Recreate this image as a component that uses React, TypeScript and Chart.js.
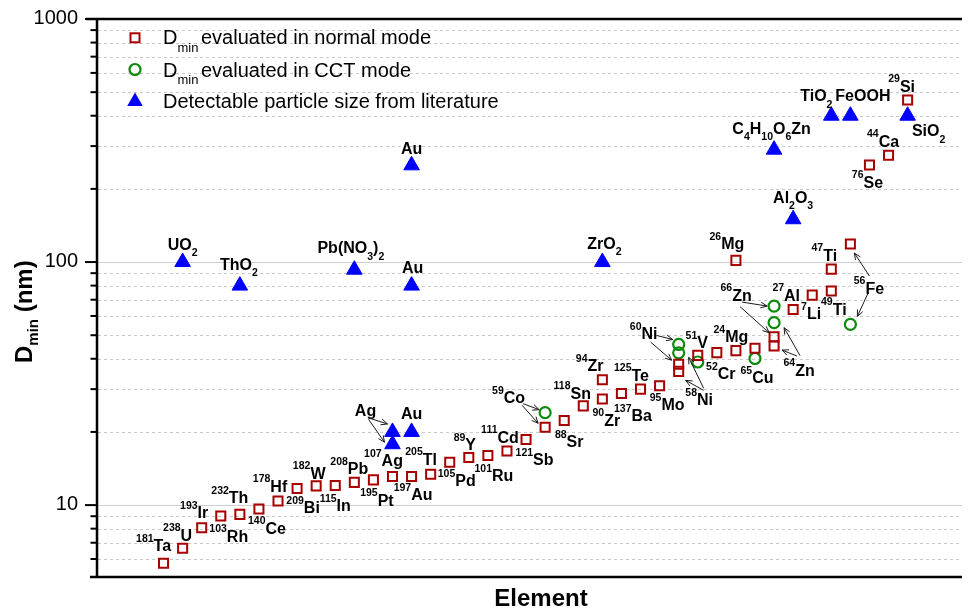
import React, { useEffect, useRef } from "react";
import { Chart, registerables } from "chart.js";

Chart.register(...registerables);

// ---------------- data ----------------
// x = element slot (category position along "Element"), y = Dmin in nm
const normalX = [0, 1, 2, 3, 4, 5, 6, 7, 8, 9, 10, 11, 12, 13, 14, 15, 16, 17, 18, 19, 20, 21, 22, 23, 23, 24, 25, 26, 27, 27, 28, 29, 30, 30, 31, 32, 32, 33, 34, 35, 35, 36, 37, 38, 39];
const normalY = [5.76, 6.65, 8.07, 9.01, 9.16, 9.63, 10.4, 11.7, 12.0, 12.05, 12.4, 12.7, 13.1, 13.1, 13.4, 15.0, 15.7, 16.0, 16.7, 18.6, 20.9, 22.3, 25.6, 32.8, 27.3, 28.8, 30.0, 31.0, 38.0, 35.5, 41.3, 42.4, 43.2, 101.6, 44.2, 49.3, 45.1, 63.8, 73.1, 93.5, 76.0, 118.6, 251, 275, 464];
const normalLabels = ["^181Ta", "^238U", "^193Ir", "^103Rh", "^232Th", "^140Ce", "^178Hf", "^209Bi", "^182W", "^115In", "^208Pb", "^195Pt", "^107Ag", "^197Au", "^205Tl", "^105Pd", "^89Y", "^101Ru", "^111Cd", "^121Sb", "", "^88Sr", "^118Sn", "^94Zr", "^90Zr", "^137Ba", "^125Te", "^95Mo", "", "^58Ni", "^51V", "^52Cr", "^24Mg", "^26Mg", "", "", "^64Zn", "^7Li", "^27Al", "^47Ti", "^49Ti", "^56Fe", "^76Se", "^44Ca", "^29Si"];

const cctX = [20, 27, 27, 28, 31, 32, 32, 36];
const cctY = [24.0, 45.8, 42.3, 38.8, 40.1, 65.9, 56.3, 55.4];
const cctLabels = ["^59Co", "^60Ni", "", "", "^65Cu", "^66Zn", "", ""];

const litX = [1, 4, 10, 12, 12, 13, 13, 13, 23, 32, 33, 35, 36, 39];
const litY = [100, 80, 93, 20, 17.8, 250, 80, 20, 100, 290, 150, 400, 400, 400];
const litLabels = ["UO_2", "ThO_2", "Pb(NO_3)_2", "Ag", "", "Au", "Au", "Au", "ZrO_2", "C_4H_10O_6Zn", "Al_2O_3", "TiO_2", "FeOOH", "SiO_2"];

const yMajorTicks = [1000, 100, 10];
const yMinorTicks = [6, 7, 8, 9, 20, 30, 40, 50, 60, 70, 80, 90, 200, 300, 400, 500, 600, 700, 800, 900];
const yTickText = ["1000", "100", "10"];

const legendTexts = [
  ["D", "min", " evaluated in normal mode"],
  ["D", "min", " evaluated in CCT mode"],
  ["Detectable particle size from literature", "", ""],
];
const xTitle = "Element";
const yTitle = ["D", "min", " (nm)"];

// ---------------- layout (pixel offsets of annotations) ----------------
const normalLabelOffsets: number[][] = [
  [-10, -18], [-5, -13], [-7.5, -15], [8, 20], [-10, -17], [8, 19], [-8, -15], [6, 19], [-7, -13], [0, 20],
  [-5, -14], [3.5, 20], [-9, -16], [1.5, 18], [-9.5, -15], [7, 18], [-4, -13], [6, 20], [-7, -14], [8.5, 20],
  [0, 0], [5, 21], [-11, -13], [-12.7, -14], [4, 21], [11.5, 22], [-9, -14], [7.5, 19], [0, 0], [20.5, 28],
  [-1, -13], [4, 21], [-5, -14], [-9, -17], [0, 0], [0, 0], [25, 24], [18, 4], [-26, 0], [-7, -14],
  [2.5, 18], [18.5, 44], [-2, 17], [-5.5, -14], [-6, -14],
];
const cctLabelOffsets: number[][] = [[-36.5, -15], [-35, -11], [0, 0], [0, 0], [2, 19], [-38, -11], [0, 0], [0, 0]];
const litLabelOffsets: number[][] = [
  [0, -18], [-1, -21.5], [-3.5, -22], [-27, -22], [0, 0], [0, -17], [1, -18.5], [0, -19], [2, -19], [-2.5, -21.5],
  [0, -22], [-15, -20], [12.5, -20], [21, 15],
];
const arrows = [
  { set: "l", k: 3, from: [-24, -14], to: [-5, -8] },
  { set: "l", k: 4, from: [-24, -25], to: [-8, -2] },
  { set: "c", k: 0, from: [-22, -9], to: [-6, -3] },
  { set: "n", k: 20, from: [-23, -22], to: [-7, -4] },
  { set: "c", k: 1, from: [-22, -9], to: [-6, -5] },
  { set: "n", k: 28, from: [-28, -22], to: [-7, -4] },
  { set: "n", k: 29, from: [25, 19], to: [7, 9] },
  { set: "c", k: 2, from: [25, 35.5], to: [10, 4.5] },
  { set: "c", k: 5, from: [-32, -4], to: [-7, 0] },
  { set: "n", k: 35, from: [-34, -30], to: [-5, -4] },
  { set: "c", k: 6, from: [26, 33], to: [10, 5] },
  { set: "n", k: 36, from: [23, 10], to: [8, 4] },
  { set: "n", k: 41, from: [19, 32], to: [4, 9] },
  { set: "c", k: 7, from: [18, -32], to: [7, -8] },
];

const RED = "#a80000";
const GREEN = "#0b8a0b";
const BLUE = "#0000ff";
const FONT = "'Liberation Sans', Arial, Helvetica, sans-serif";

function drawRich(ctx: CanvasRenderingContext2D, text: string, cx: number, cy: number, size = 16, small = 10.5) {
  type Seg = { t: string; k: "n" | "sup" | "sub" };
  const segs: Seg[] = [];
  let i = 0;
  let cur = "";
  while (i < text.length) {
    const ch = text[i];
    if (ch === "^" || ch === "_") {
      if (cur) { segs.push({ t: cur, k: "n" }); cur = ""; }
      let j = i + 1;
      let d = "";
      while (j < text.length && /[0-9]/.test(text[j])) { d += text[j]; j++; }
      segs.push({ t: d, k: ch === "^" ? "sup" : "sub" });
      i = j;
    } else {
      cur += ch;
      i++;
    }
  }
  if (cur) segs.push({ t: cur, k: "n" });
  const big = `bold ${size}px ${FONT}`;
  const sm = `bold ${small}px ${FONT}`;
  let w = 0;
  const widths = segs.map((s) => {
    ctx.font = s.k === "n" ? big : sm;
    const ww = ctx.measureText(s.t).width;
    w += ww;
    return ww;
  });
  const baseline = cy + size * 0.716 / 2;
  let x = cx - w / 2;
  ctx.textAlign = "left";
  ctx.textBaseline = "alphabetic";
  ctx.fillStyle = "#000";
  segs.forEach((s, idx) => {
    ctx.font = s.k === "n" ? big : sm;
    const y = s.k === "n" ? baseline : s.k === "sup" ? baseline - 9.5 : baseline + 6.5;
    ctx.fillText(s.t, x, y);
    x += widths[idx];
  });
}

function drawArrow(ctx: CanvasRenderingContext2D, x1: number, y1: number, x2: number, y2: number) {
  ctx.beginPath();
  ctx.moveTo(x1, y1);
  ctx.lineTo(x2, y2);
  const a = Math.atan2(y2 - y1, x2 - x1);
  const L = 7;
  const s = 0.42;
  ctx.moveTo(x2 - L * Math.cos(a - s), y2 - L * Math.sin(a - s));
  ctx.lineTo(x2, y2);
  ctx.lineTo(x2 - L * Math.cos(a + s), y2 - L * Math.sin(a + s));
  ctx.stroke();
}

const annotPlugin = {
  id: "annot",
  beforeDatasetsDraw(chart: any) {
    const { ctx, chartArea, scales } = chart;
    const y = scales.y;
    ctx.save();
    ctx.lineWidth = 1;
    ctx.strokeStyle = "#c8c8c8";
    ctx.setLineDash([3, 3]);
    yMinorTicks.forEach((v) => {
      const py = Math.round(y.getPixelForValue(v)) + 0.5;
      ctx.beginPath();
      ctx.moveTo(chartArea.left + 2, py);
      ctx.lineTo(chartArea.right, py);
      ctx.stroke();
    });
    ctx.setLineDash([]);
    ctx.strokeStyle = "#cfcfcf";
    yMajorTicks.forEach((v) => {
      if (v >= 1000) return;
      const py = Math.round(y.getPixelForValue(v)) + 0.5;
      ctx.beginPath();
      ctx.moveTo(chartArea.left + 2, py);
      ctx.lineTo(chartArea.right, py);
      ctx.stroke();
    });
    ctx.restore();
  },
  afterDatasetsDraw(chart: any) {
    const { ctx, chartArea, scales } = chart;
    const xs = scales.x;
    const ys = scales.y;
    const { left, right, top, bottom } = chartArea;
    ctx.save();
    // axes frame
    ctx.strokeStyle = "#000";
    ctx.lineWidth = 2.5;
    ctx.beginPath();
    ctx.moveTo(left + 1, top);
    ctx.lineTo(left + 1, bottom);
    ctx.stroke();
    ctx.beginPath();
    ctx.moveTo(left - 6, bottom);
    ctx.lineTo(right, bottom);
    ctx.stroke();
    ctx.beginPath();
    ctx.moveTo(left - 10, top);
    ctx.lineTo(right, top);
    ctx.stroke();
    // ticks
    ctx.lineWidth = 2;
    yMajorTicks.forEach((v) => {
      const py = ys.getPixelForValue(v);
      ctx.beginPath();
      ctx.moveTo(left - 11, py);
      ctx.lineTo(left, py);
      ctx.stroke();
    });
    yMinorTicks.forEach((v) => {
      const py = ys.getPixelForValue(v);
      ctx.beginPath();
      ctx.moveTo(left - 5.5, py);
      ctx.lineTo(left, py);
      ctx.stroke();
    });
    // tick labels
    ctx.fillStyle = "#000";
    ctx.font = `20px ${FONT}`;
    ctx.textAlign = "right";
    ctx.textBaseline = "middle";
    yMajorTicks.forEach((v, i) => {
      ctx.fillText(yTickText[i], left - 18, ys.getPixelForValue(v) - 1);
    });
    // x title
    ctx.font = `bold 24px ${FONT}`;
    ctx.textAlign = "center";
    ctx.textBaseline = "alphabetic";
    ctx.fillText(xTitle, 541, 606);
    // y title (rotated)
    ctx.save();
    ctx.translate(32, 363);
    ctx.rotate(-Math.PI / 2);
    ctx.textAlign = "left";
    ctx.font = `bold 24px ${FONT}`;
    let tx = 0;
    ctx.fillText(yTitle[0], tx, 0);
    tx += ctx.measureText(yTitle[0]).width;
    ctx.font = `bold 15px ${FONT}`;
    ctx.fillText(yTitle[1], tx, 6);
    tx += ctx.measureText(yTitle[1]).width;
    ctx.font = `bold 24px ${FONT}`;
    ctx.fillText(yTitle[2], tx, 0);
    ctx.restore();

    // legend
    const lx = 135;
    const rows = [37.8, 69.5, 101.5];
    const baselines = [44.3, 76.5, 107.7];
    // square
    ctx.strokeStyle = RED;
    ctx.lineWidth = 2;
    ctx.strokeRect(lx - 4.5, rows[0] - 4.5, 9, 9);
    // circle
    ctx.strokeStyle = GREEN;
    ctx.lineWidth = 2.2;
    ctx.beginPath();
    ctx.arc(lx, rows[1], 5.5, 0, Math.PI * 2);
    ctx.stroke();
    // triangle
    ctx.fillStyle = BLUE;
    ctx.beginPath();
    const r = 9;
    ctx.moveTo(lx, rows[2] - r);
    ctx.lineTo(lx + r * 0.866, rows[2] + r / 2);
    ctx.lineTo(lx - r * 0.866, rows[2] + r / 2);
    ctx.closePath();
    ctx.fill();
    ctx.fillStyle = "#000";
    ctx.textAlign = "left";
    ctx.textBaseline = "alphabetic";
    legendTexts.forEach((parts, i) => {
      let x = 163;
      ctx.font = `20px ${FONT}`;
      ctx.fillText(parts[0], x, baselines[i]);
      x += ctx.measureText(parts[0]).width;
      if (parts[1]) {
        ctx.font = `13px ${FONT}`;
        ctx.fillText(parts[1], x, baselines[i] + 7.5);
        x += ctx.measureText(parts[1]).width + 2;
      }
      if (parts[2]) {
        ctx.font = `20px ${FONT}`;
        ctx.fillText(parts[2], x - 5, baselines[i]);
      }
    });

    // point labels
    const pix = (xv: number, yv: number) => [xs.getPixelForValue(xv), ys.getPixelForValue(yv)];
    const sets: any = {
      n: { X: normalX, Y: normalY, L: normalLabels, O: normalLabelOffsets },
      c: { X: cctX, Y: cctY, L: cctLabels, O: cctLabelOffsets },
      l: { X: litX, Y: litY, L: litLabels, O: litLabelOffsets },
    };
    Object.keys(sets).forEach((key) => {
      const s = sets[key];
      s.L.forEach((lab: string, i: number) => {
        if (!lab) return;
        const [px, py] = pix(s.X[i], s.Y[i]);
        drawRich(ctx, lab, px + s.O[i][0], py + s.O[i][1]);
      });
    });
    // arrows
    ctx.strokeStyle = "#1a1a1a";
    ctx.lineWidth = 1;
    arrows.forEach((a) => {
      const s = sets[a.set];
      const [px, py] = pix(s.X[a.k], s.Y[a.k]);
      drawArrow(ctx, px + a.from[0], py + a.from[1], px + a.to[0], py + a.to[1]);
    });
    ctx.restore();
  },
};

export default function App() {
  const ref = useRef<HTMLCanvasElement | null>(null);
  useEffect(() => {
    if (!ref.current) return;
    const toPts = (X: number[], Y: number[]) => X.map((x, i) => ({ x, y: Y[i] }));
    const chart = new Chart(ref.current, {
      type: "scatter",
      data: {
        datasets: [
          {
            label: "normal",
            data: toPts(normalX, normalY),
            pointStyle: "rect",
            pointRadius: 6.4,
            borderColor: RED,
            backgroundColor: "rgba(0,0,0,0)",
            borderWidth: 2,
          },
          {
            label: "cct",
            data: toPts(cctX, cctY),
            pointStyle: "circle",
            pointRadius: 5.5,
            borderColor: GREEN,
            backgroundColor: "rgba(0,0,0,0)",
            borderWidth: 2.2,
          },
          {
            label: "literature",
            data: toPts(litX, litY),
            pointStyle: "triangle",
            pointRadius: 9,
            borderColor: BLUE,
            backgroundColor: BLUE,
            borderWidth: 1,
          },
        ],
      },
      options: {
        responsive: false,
        animation: false,
        events: [],
        layout: { padding: { left: 96, top: 19, right: 0, bottom: 32 } },
        plugins: { legend: { display: false }, tooltip: { enabled: false } },
        scales: {
          x: { type: "linear", display: false, min: -3.54, max: 41.85 },
          y: { type: "logarithmic", display: false, min: 5.06, max: 1000 },
        },
      },
      plugins: [annotPlugin],
    });
    return () => chart.destroy();
  }, []);
  return (
    <div style={{ position: "fixed", left: 0, top: 0, width: 972, height: 609, background: "#fff" }}>
      <canvas ref={ref} width={972} height={609} style={{ display: "block", width: 972, height: 609 }} />
    </div>
  );
}
